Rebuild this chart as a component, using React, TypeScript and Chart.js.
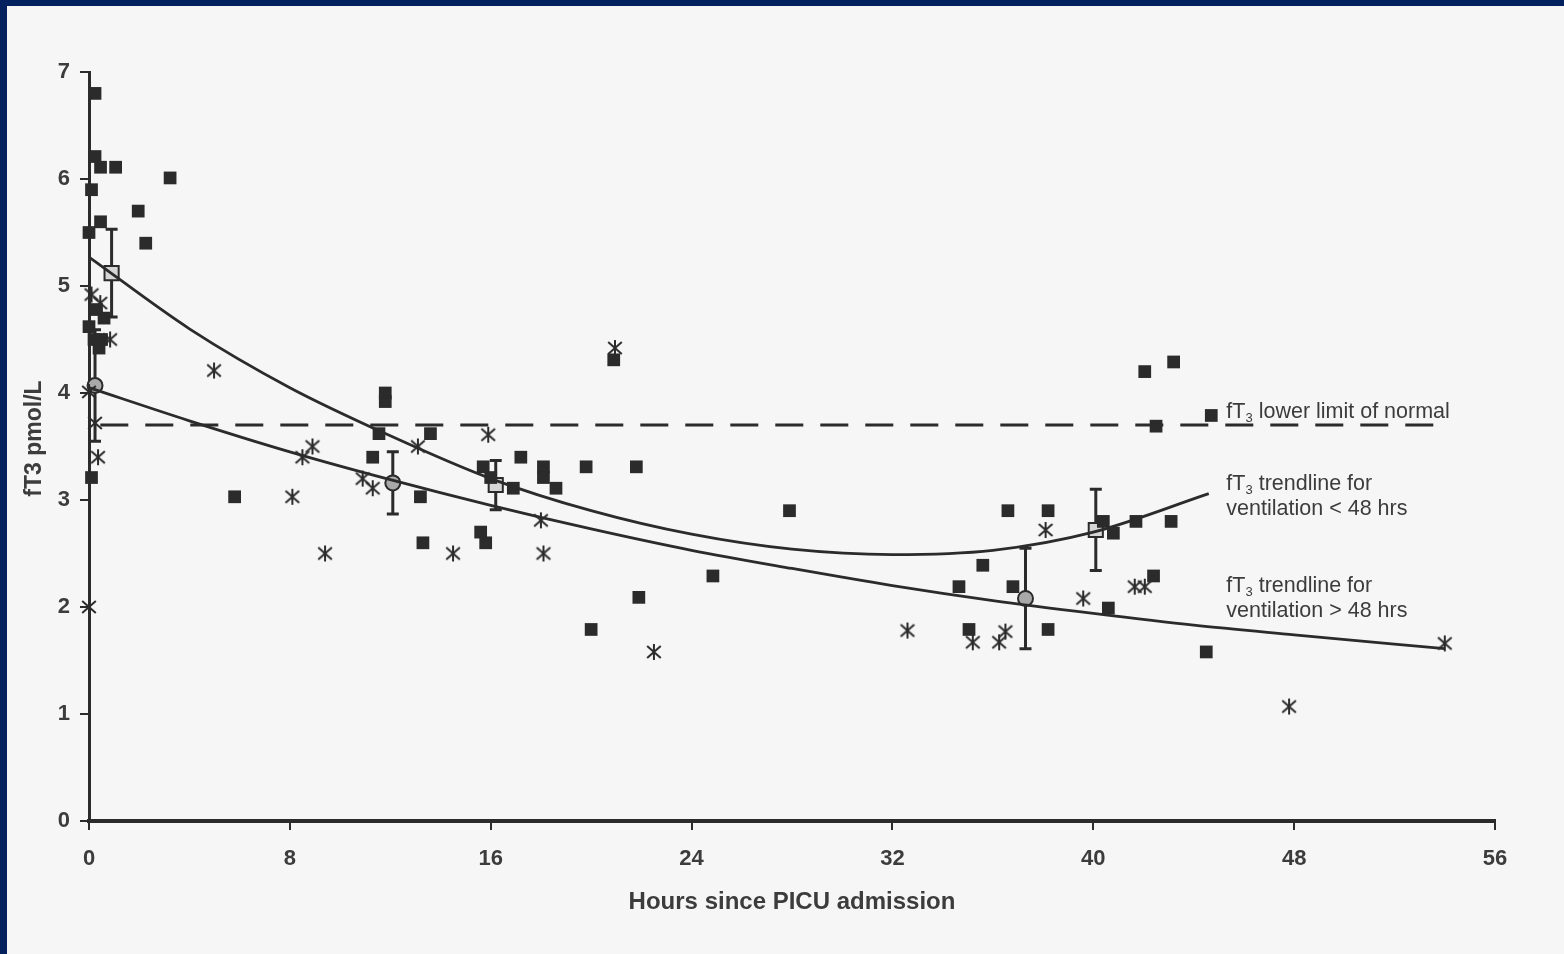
import React, { useEffect, useRef } from "react";
import { Chart, registerables } from "chart.js";

Chart.register(...registerables);

// ---------- data ----------
const X_MIN = 0;
const X_MAX = 56;
const X_STEP = 8;
const Y_MIN = 0;
const Y_MAX = 7;
const Y_STEP = 1;

// ventilation < 48 hrs (filled squares)
const SHORT_HOURS = [
  0.24, 0.24, 0.46, 1.06, 3.23, 0.1, 1.96, 0.46, 2.26, 0.0,
  0.0, 0.2, 0.4, 0.6, 0.5, 0.3, 0.1,
  11.8, 11.8, 11.55, 13.6, 11.3, 13.2, 5.8,
  20.9, 17.2, 15.7, 19.8, 21.8, 18.1, 18.1, 16.0, 16.9, 18.6, 15.6, 15.8, 13.3,
  27.9, 24.85, 21.9, 20.0,
  42.05, 43.2, 44.7, 42.5, 36.6, 38.2, 40.4, 40.8, 41.7, 43.1, 35.6, 34.65, 36.8, 42.4, 40.6, 38.2, 35.05, 44.5,
];
const SHORT_FT3 = [
  6.8, 6.21, 6.11, 6.11, 6.01, 5.9, 5.7, 5.6, 5.4, 5.5,
  4.62, 4.5, 4.42, 4.7, 4.5, 4.78, 3.21,
  4.0, 3.92, 3.62, 3.62, 3.4, 3.03, 3.03,
  4.31, 3.4, 3.31, 3.31, 3.31, 3.31, 3.21, 3.21, 3.11, 3.11, 2.7, 2.6, 2.6,
  2.9, 2.29, 2.09, 1.79,
  4.2, 4.29, 3.79, 3.69, 2.9, 2.9, 2.8, 2.69, 2.8, 2.8, 2.39, 2.19, 2.19, 2.29, 1.99, 1.79, 1.79, 1.58,
];

// ventilation > 48 hrs (asterisks)
const LONG_HOURS = [
  0.1, 0.45, 0.84, 0.0, 0.24, 0.36, 0.0, 4.98, 8.9, 8.5, 13.1, 10.9, 11.3, 8.1,
  20.95, 15.9, 18.0, 9.4, 14.5, 18.1, 22.5, 32.6, 38.1, 41.65, 42.05, 39.6,
  35.2, 36.25, 36.5, 54.0, 47.8,
];
const LONG_FT3 = [
  4.92, 4.84, 4.5, 4.01, 3.72, 3.4, 2.0, 4.21, 3.5, 3.4, 3.5, 3.2, 3.11, 3.03,
  4.42, 3.61, 2.81, 2.5, 2.5, 2.5, 1.58, 1.78, 2.72, 2.19, 2.19, 2.08,
  1.67, 1.67, 1.77, 1.66, 1.07,
];

// group means with error bars
const MEAN_SHORT_HOURS = [0.9, 16.2, 40.1];
const MEAN_SHORT_FT3 = [5.12, 3.14, 2.72];
const MEAN_SHORT_ERR = [0.41, 0.23, 0.38];
const MEAN_LONG_HOURS = [0.24, 12.1, 37.3];
const MEAN_LONG_FT3 = [4.07, 3.16, 2.08];
const MEAN_LONG_ERR = [0.52, 0.29, 0.47];

// trendlines
const TREND_SHORT_HOURS = [0, 4, 8, 12, 16, 20, 24, 28, 32, 36, 40, 44.6];
const TREND_SHORT_FT3 = [5.27, 4.6, 4.05, 3.6, 3.2, 2.9, 2.68, 2.54, 2.49, 2.53, 2.7, 3.06];
const TREND_LONG_HOURS = [0, 4, 8, 12, 16, 20, 24, 28, 32, 36, 40, 44, 48, 54];
const TREND_LONG_FT3 = [4.05, 3.74, 3.45, 3.19, 2.95, 2.73, 2.53, 2.36, 2.2, 2.06, 1.94, 1.83, 1.74, 1.61];

// lower limit of normal
const LIMIT_HOURS = [0.45, 54.2];
const LIMIT_FT3 = 3.7;

// annotation texts
const NOTE_HOURS = [45.3, 45.3, 45.3, 45.3, 45.3];
const NOTE_FT3 = [3.77, 3.09, 2.86, 2.14, 1.91];
const NOTE_SUB = [true, true, false, true, false];
const NOTE_TEXT = [
  " lower limit of normal",
  " trendline for",
  "ventilation < 48 hrs",
  " trendline for",
  "ventilation > 48 hrs",
];

const X_TITLE = "Hours since PICU admission";
const Y_TITLE = "fT3 pmol/L";

// ---------- styles ----------
const INK = "#2b2b2b";
const TEXT = "#3c3c3c";
const PAPER = "#f6f6f6";
const FRAME = "#04215f";
const FONT = "'Liberation Sans', Arial, Helvetica, sans-serif";

function makeAsterisk(size: number, color: string, lw: number) {
  const c = document.createElement("canvas");
  c.width = size;
  c.height = size;
  const g = c.getContext("2d")!;
  g.strokeStyle = color;
  g.lineWidth = lw;
  const m = size / 2;
  const r = size / 2 - 1;
  g.beginPath();
  g.moveTo(m, m - r);
  g.lineTo(m, m + r);
  g.moveTo(m - r * 0.85, m - r * 0.75);
  g.lineTo(m + r * 0.85, m + r * 0.75);
  g.moveTo(m + r * 0.85, m - r * 0.75);
  g.lineTo(m - r * 0.85, m + r * 0.75);
  g.stroke();
  return c;
}

const pts = (xs: number[], ys: number[]) => xs.map((x, i) => ({ x, y: ys[i] }));

export default function App() {
  const ref = useRef<HTMLCanvasElement | null>(null);

  useEffect(() => {
    document.body.style.margin = "0";
    const canvas = ref.current!;
    const star = makeAsterisk(18, INK, 2);

    const overlay = {
      id: "overlay",
      beforeDatasetsDraw(chart: any) {
        const { ctx } = chart;
        const xs = chart.scales.x;
        const ys = chart.scales.y;
        ctx.save();
        ctx.strokeStyle = INK;
        ctx.lineWidth = 3;
        const bars = (hs: number[], vs: number[], es: number[]) => {
          hs.forEach((h, i) => {
            const px = xs.getPixelForValue(h);
            const t = ys.getPixelForValue(vs[i] + es[i]);
            const b = ys.getPixelForValue(vs[i] - es[i]);
            ctx.beginPath();
            ctx.moveTo(px, t);
            ctx.lineTo(px, b);
            ctx.moveTo(px - 6, t);
            ctx.lineTo(px + 6, t);
            ctx.moveTo(px - 6, b);
            ctx.lineTo(px + 6, b);
            ctx.stroke();
          });
        };
        bars(MEAN_SHORT_HOURS, MEAN_SHORT_FT3, MEAN_SHORT_ERR);
        bars(MEAN_LONG_HOURS, MEAN_LONG_FT3, MEAN_LONG_ERR);
        ctx.restore();
      },
      afterDraw(chart: any) {
        const { ctx, chartArea } = chart;
        const xs = chart.scales.x;
        const ys = chart.scales.y;
        ctx.save();
        // axis titles
        ctx.fillStyle = TEXT;
        ctx.font = `bold 24px ${FONT}`;
        ctx.textAlign = "center";
        ctx.textBaseline = "middle";
        ctx.fillText(X_TITLE, (chartArea.left + chartArea.right) / 2, chartArea.bottom + 81);
        ctx.save();
        ctx.translate(35, (chartArea.top + chartArea.bottom) / 2 - 8);
        ctx.rotate(-Math.PI / 2);
        ctx.font = `bold 23px ${FONT}`;
        ctx.fillText(Y_TITLE, 0, 0);
        ctx.restore();
        // annotations
        ctx.textAlign = "left";
        ctx.textBaseline = "alphabetic";
        NOTE_TEXT.forEach((txt, i) => {
          let px = xs.getPixelForValue(NOTE_HOURS[i]);
          const py = ys.getPixelForValue(NOTE_FT3[i]);
          ctx.font = `21.5px ${FONT}`;
          if (NOTE_SUB[i]) {
            ctx.fillText("fT", px, py);
            px += ctx.measureText("fT").width;
            ctx.font = `13px ${FONT}`;
            ctx.fillText("3", px, py + 4);
            px += ctx.measureText("3").width;
            ctx.font = `21.5px ${FONT}`;
          }
          ctx.fillText(txt, px, py);
        });
        ctx.restore();
      },
    };

    const chart = new Chart(canvas, {
      type: "scatter",
      data: {
        datasets: [
          {
            label: "lower limit",
            data: LIMIT_HOURS.map((h) => ({ x: h, y: LIMIT_FT3 })),
            showLine: true,
            borderColor: INK,
            borderWidth: 3,
            borderDash: [28, 17],
            pointRadius: 0,
            clip: false,
          },
          {
            label: "trend < 48",
            data: pts(TREND_SHORT_HOURS, TREND_SHORT_FT3),
            showLine: true,
            borderColor: INK,
            borderWidth: 2.8,
            pointRadius: 0,
            cubicInterpolationMode: "monotone",
            clip: false,
          },
          {
            label: "trend > 48",
            data: pts(TREND_LONG_HOURS, TREND_LONG_FT3),
            showLine: true,
            borderColor: INK,
            borderWidth: 2.8,
            pointRadius: 0,
            cubicInterpolationMode: "monotone",
            clip: false,
          },
          {
            label: "ventilation < 48 hrs",
            data: pts(SHORT_HOURS, SHORT_FT3),
            pointStyle: "rect",
            pointRadius: 9,
            backgroundColor: INK,
            borderWidth: 0,
            clip: false,
          },
          {
            label: "ventilation > 48 hrs",
            data: pts(LONG_HOURS, LONG_FT3),
            pointStyle: star as any,
            pointRadius: 9,
            clip: false,
          },
          {
            label: "mean < 48",
            data: pts(MEAN_SHORT_HOURS, MEAN_SHORT_FT3),
            pointStyle: "rect",
            pointRadius: 10,
            backgroundColor: "#d6d6d6",
            borderColor: INK,
            borderWidth: 2,
            clip: false,
          },
          {
            label: "mean > 48",
            data: pts(MEAN_LONG_HOURS, MEAN_LONG_FT3),
            pointStyle: "circle",
            pointRadius: 7.5,
            backgroundColor: "#a9a9a9",
            borderColor: INK,
            borderWidth: 2,
            clip: false,
          },
        ],
      },
      options: {
        responsive: false,
        animation: false,
        devicePixelRatio: 1,
        events: [],
        layout: { padding: { top: 72, right: 69, left: 0, bottom: 0 } },
        plugins: { legend: { display: false }, tooltip: { enabled: false } },
        scales: {
          x: {
            type: "linear",
            min: X_MIN,
            max: X_MAX,
            afterFit: (s: any) => {
              s.height = 133;
            },
            ticks: {
              stepSize: X_STEP,
              color: TEXT,
              font: { family: FONT, size: 22, weight: "bold" },
              padding: 16,
            },
            grid: {
              drawOnChartArea: false,
              drawTicks: true,
              tickLength: 9,
              color: INK,
              lineWidth: 2,
            },
            border: { display: true, color: INK, width: 4 },
          },
          y: {
            type: "linear",
            min: Y_MIN,
            max: Y_MAX,
            afterFit: (s: any) => {
              s.width = 89;
            },
            ticks: {
              stepSize: Y_STEP,
              color: TEXT,
              font: { family: FONT, size: 22, weight: "bold" },
              padding: 10,
            },
            grid: {
              drawOnChartArea: false,
              drawTicks: true,
              tickLength: 9,
              color: INK,
              lineWidth: 2,
            },
            border: { display: true, color: INK, width: 3 },
          },
        },
      },
      plugins: [overlay],
    } as any);

    return () => chart.destroy();
  }, []);

  return (
    <div
      style={{
        position: "fixed",
        left: 0,
        top: 0,
        width: 1564,
        height: 954,
        background: FRAME,
        overflow: "hidden",
      }}
    >
      <div
        style={{
          position: "absolute",
          left: 7,
          top: 6,
          right: 0,
          bottom: 0,
          background: PAPER,
        }}
      />
      <canvas
        ref={ref}
        width={1564}
        height={954}
        style={{ position: "absolute", left: 0, top: 0, width: 1564, height: 954 }}
      />
    </div>
  );
}
